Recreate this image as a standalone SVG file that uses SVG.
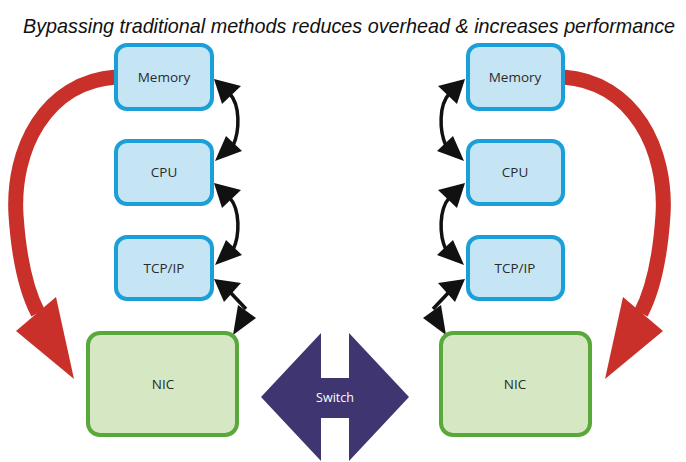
<svg xmlns="http://www.w3.org/2000/svg" width="686" height="462" viewBox="0 0 686 462">
<style>
.box{fill:#c6e5f4;stroke:#1b9fd9;stroke-width:4}
.nic{fill:#d6e7c4;stroke:#58a83a;stroke-width:4}
.lbl{font-family:"Open Sans","Liberation Sans",sans-serif;font-size:13.5px;fill:#2a2a2a;text-anchor:middle}
.red{fill:none;stroke:#c9302a;stroke-width:15}
.redh{fill:#c9302a}
.blk{fill:none;stroke:#111;stroke-width:3.5}
.blkh{fill:#111}
</style>
<rect width="686" height="462" fill="#fff"/>
<text x="349" y="28.7" transform="scale(1,1.15)" text-anchor="middle" font-family="'Liberation Sans',sans-serif" font-style="italic" font-size="18" textLength="652" lengthAdjust="spacingAndGlyphs" fill="#111">Bypassing traditional methods reduces overhead &amp; increases performance</text>

<g id="connectors">
  <path class="red" d="M116,77 C45,82 12,150 16,215 C19,260 26,290 38,313"/>
  <polygon class="redh" points="16,331 56,297 74,379"/>
  <path class="red" d="M563,77 C634,82 667,150 663,215 C660,260 653,290 641,313"/>
  <polygon class="redh" points="663,331 623,297 605,379"/>

  <path class="blk" d="M230,94 C240,105 240,130 233,146"/>
  <polygon class="blkh" points="214,79 241,86 222,104"/>
  <polygon class="blkh" points="215,161 226,136 242,151"/>
  <path class="blk" d="M230,198 C240,210 240,235 233,250"/>
  <polygon class="blkh" points="214,183 241,190 222,208"/>
  <polygon class="blkh" points="215,265 226,240 242,255"/>
  <path class="blk" d="M230,292 L246,309"/>
  <polygon class="blkh" points="214,279 241,283 224,302"/>
  <polygon class="blkh" points="233,335 238,305 256,318"/>

  <path class="blk" d="M449,94 C439,105 439,130 446,146"/>
  <polygon class="blkh" points="465,79 438,86 457,104"/>
  <polygon class="blkh" points="464,161 453,136 437,151"/>
  <path class="blk" d="M449,198 C439,210 439,235 446,250"/>
  <polygon class="blkh" points="465,183 438,190 457,208"/>
  <polygon class="blkh" points="464,265 453,240 437,255"/>
  <path class="blk" d="M449,292 L433,309"/>
  <polygon class="blkh" points="465,279 438,283 455,302"/>
  <polygon class="blkh" points="446,335 441,305 423,318"/>
</g>

<g id="memory-left"><rect class="box" x="116" y="45" width="96" height="64" rx="11"/><text class="lbl" x="164" y="82">Memory</text></g>
<g id="cpu-left"><rect class="box" x="116" y="141" width="96" height="63" rx="11"/><text class="lbl" x="164" y="177">CPU</text></g>
<g id="tcpip-left"><rect class="box" x="116" y="237" width="96" height="62" rx="11"/><text class="lbl" x="164" y="273">TCP/IP</text></g>
<g id="nic-left"><rect class="nic" x="88" y="333" width="149" height="102" rx="12"/><text class="lbl" x="163" y="389">NIC</text></g>

<g id="memory-right"><rect class="box" x="468" y="45" width="95" height="64" rx="11"/><text class="lbl" x="515" y="82">Memory</text></g>
<g id="cpu-right"><rect class="box" x="468" y="141" width="95" height="63" rx="11"/><text class="lbl" x="515" y="177">CPU</text></g>
<g id="tcpip-right"><rect class="box" x="468" y="237" width="95" height="62" rx="11"/><text class="lbl" x="515" y="273">TCP/IP</text></g>
<g id="nic-right"><rect class="nic" x="441" y="333" width="149" height="102" rx="12"/><text class="lbl" x="515" y="389">NIC</text></g>

<g id="switch">
  <polygon fill="#3e3571" points="321,333 321,378 349,378 349,333 409,397 349,461 349,418 321,418 321,461 261,397"/>
  <text x="335" y="402" text-anchor="middle" font-family="'Open Sans','Liberation Sans',sans-serif" font-size="12.5" fill="#fff">Switch</text>
</g>
</svg>
